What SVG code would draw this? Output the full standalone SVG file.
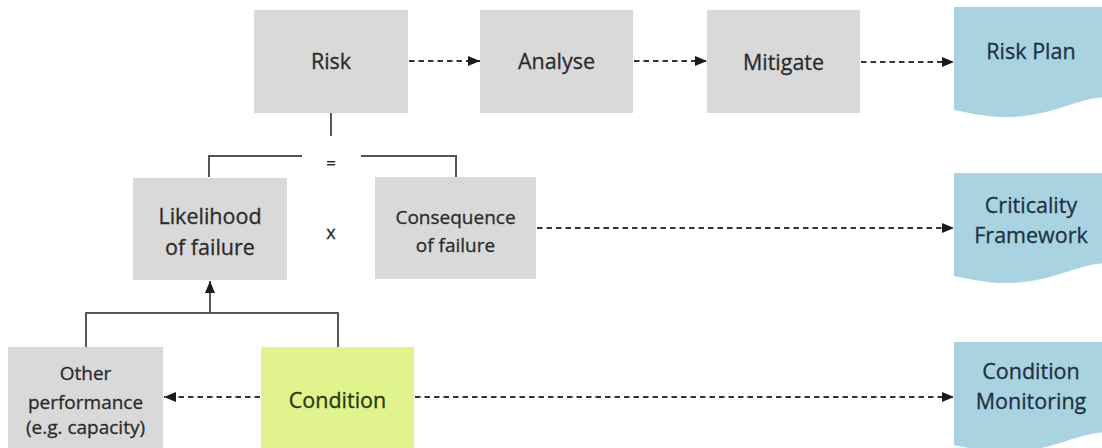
<svg xmlns="http://www.w3.org/2000/svg" width="1102" height="448" viewBox="0 0 1102 448">
<style>
.box{fill:#d9d9d9}
.cond{fill:#e0f38d}
.doc{fill:#a9d3e1}
.t{font-family:"Open Sans","Liberation Sans",sans-serif;font-size:21.5px;fill:#2b2b2b;stroke:#2b2b2b;stroke-width:0.3;text-anchor:middle}
.s{font-size:19px}
.dt{fill:#1d3142;stroke:#1d3142}
.ct{fill:#2a3812;stroke:#2a3812}
.dash{fill:none;stroke:#333;stroke-width:1.9;stroke-dasharray:5.5 4}
.solid{fill:none;stroke:#555;stroke-width:2}
</style>
<defs>
<marker id="ah" markerUnits="userSpaceOnUse" markerWidth="13" markerHeight="11" refX="12" refY="5" orient="auto" viewBox="0 0 13 10">
<path d="M0,0 L12,5 L0,10 Z" fill="#1a1a1a"/>
</marker>
<path id="docshape" d="M954,7 L1104,7 L1104,97 C1070,100 1050,118 1000,117 C980,116 965,112 954,110 Z"/>
</defs>
<g id="connectors">
<line class="dash" x1="409" y1="61" x2="480" y2="61" marker-end="url(#ah)"/>
<line class="dash" x1="634" y1="61" x2="707" y2="61" marker-end="url(#ah)"/>
<line class="dash" x1="861" y1="62" x2="954" y2="62" marker-end="url(#ah)"/>
<line class="dash" x1="537" y1="228" x2="954" y2="228" marker-end="url(#ah)"/>
<line class="dash" x1="415" y1="397" x2="954" y2="397" marker-end="url(#ah)"/>
<line class="dash" x1="260" y1="397" x2="164" y2="397" marker-end="url(#ah)"/>
<line class="solid" x1="331" y1="113" x2="331" y2="136"/>
<path class="solid" d="M209,177 V156 H302"/>
<path class="solid" d="M361,156 H456 V177"/>
<path class="solid" d="M86,347 V313 H338 V347"/>
<line class="solid" x1="210" y1="313" x2="210" y2="281" marker-end="url(#ah)"/>
<text class="t" x="331" y="169" style="font-size:17px">=</text>
<text class="t" x="331" y="239" style="font-size:18px">x</text>
</g>
<g id="risk">
<rect class="box" x="254" y="10" width="154" height="103"/>
<text class="t" x="331" y="69">Risk</text>
</g>
<g id="analyse">
<rect class="box" x="480" y="10" width="153" height="103"/>
<text class="t" x="556.5" y="69">Analyse</text>
</g>
<g id="mitigate">
<rect class="box" x="707" y="10" width="153" height="103"/>
<text class="t" x="783.5" y="70">Mitigate</text>
</g>
<g id="riskplan">
<use href="#docshape" class="doc"/>
<text class="t dt" x="1031" y="59">Risk Plan</text>
</g>
<g id="likelihood">
<rect class="box" x="133" y="178" width="154" height="102"/>
<text class="t" x="210" y="224">Likelihood</text>
<text class="t" x="210" y="255">of failure</text>
</g>
<g id="consequence">
<rect class="box" x="375" y="177" width="161" height="102"/>
<text class="t s" x="455.5" y="224">Consequence</text>
<text class="t s" x="455.5" y="252">of failure</text>
</g>
<g id="criticality">
<use href="#docshape" class="doc" transform="translate(0,166)"/>
<text class="t dt" x="1031" y="213">Criticality</text>
<text class="t dt" x="1031" y="243">Framework</text>
</g>
<g id="other">
<rect class="box" x="8" y="347" width="155" height="103"/>
<text class="t s" x="85.5" y="380">Other</text>
<text class="t s" x="85.5" y="409">performance</text>
<text class="t s" x="85.5" y="434">(e.g. capacity)</text>
</g>
<g id="condition">
<rect class="cond" x="261" y="347" width="153" height="103"/>
<text class="t ct" x="337.5" y="408">Condition</text>
</g>
<g id="conditionmonitoring">
<use href="#docshape" class="doc" transform="translate(0,335)"/>
<text class="t dt" x="1031" y="379">Condition</text>
<text class="t dt" x="1031" y="409">Monitoring</text>
</g>
</svg>
